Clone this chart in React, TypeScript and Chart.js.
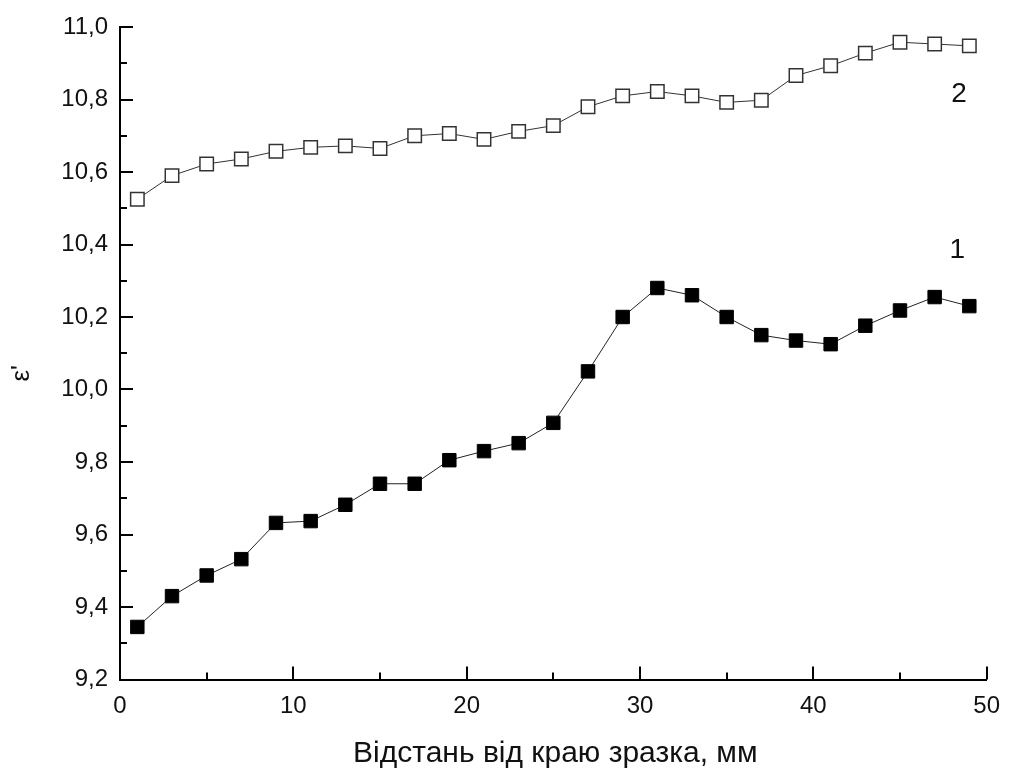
import { useEffect, useRef } from "react";
import { Chart, registerables } from "chart.js";

Chart.register(...registerables);

// Distance from the sample edge, mm
const distances = [1, 3, 5, 7, 9, 11, 13, 15, 17, 19, 21, 23, 25, 27, 29, 31, 33, 35, 37, 39, 41, 43, 45, 47, 49];

// Curve 1 (filled squares)
const curve1 = [
  9.345, 9.43, 9.487, 9.532, 9.632, 9.637, 9.682, 9.74, 9.74, 9.805, 9.83, 9.852, 9.908,
  10.05, 10.2, 10.28, 10.26, 10.2, 10.15, 10.135, 10.125, 10.176, 10.218, 10.255, 10.23,
];

// Curve 2 (open squares)
const curve2 = [
  10.525, 10.59, 10.622, 10.636, 10.657, 10.668, 10.672, 10.665, 10.7, 10.706, 10.69, 10.712, 10.728,
  10.78, 10.81, 10.822, 10.81, 10.792, 10.798, 10.866, 10.893, 10.928, 10.958, 10.953, 10.948,
];

// Curve number labels, placed in data coordinates
const curveNames = ["1", "2"];
const curveNameX = [48.3, 48.4];
const curveNameY = [10.385, 10.815];

const xTitle = "Відстань від краю зразка, мм";
const yTitle = "ε'";

const FONT = "'Liberation Sans', Arial, Helvetica, sans-serif";

const toPoints = (ys: number[]) => distances.map((x, i) => ({ x, y: ys[i] }));
const fmt = (v: number) => v.toFixed(1).replace(".", ",");

// Inward major/minor ticks, curve numbers and axis titles
const decorations = {
  id: "decorations",
  afterDraw(chart: any) {
    const { ctx, chartArea } = chart;
    const x = chart.scales.x;
    const y = chart.scales.y;
    ctx.save();
    ctx.strokeStyle = "#000";
    ctx.lineWidth = 2;
    for (let i = 0; i <= 10; i++) {
      const v = i * 5;
      const px = Math.round(x.getPixelForValue(v));
      const len = i % 2 === 0 ? 13 : 7;
      ctx.beginPath();
      ctx.moveTo(px, chartArea.bottom);
      ctx.lineTo(px, chartArea.bottom - len);
      ctx.stroke();
    }
    for (let i = 0; i <= 18; i++) {
      const v = 9.2 + i * 0.1;
      const py = Math.round(y.getPixelForValue(v));
      const len = i % 2 === 0 ? 13 : 7;
      ctx.beginPath();
      ctx.moveTo(chartArea.left, py);
      ctx.lineTo(chartArea.left + len, py);
      ctx.stroke();
    }

    ctx.fillStyle = "#111";
    ctx.textAlign = "center";
    ctx.textBaseline = "middle";
    ctx.font = `28px ${FONT}`;
    curveNames.forEach((name, i) => {
      ctx.fillText(name, x.getPixelForValue(curveNameX[i]), y.getPixelForValue(curveNameY[i]));
    });

    ctx.font = `30px ${FONT}`;
    ctx.textBaseline = "alphabetic";
    ctx.fillText(xTitle, (chartArea.left + chartArea.right) / 2 + 2, 762);

    ctx.translate(22, (chartArea.top + chartArea.bottom) / 2 + 20);
    ctx.rotate(-Math.PI / 2);
    ctx.font = `26px ${FONT}`;
    ctx.textBaseline = "middle";
    ctx.fillText(yTitle, 0, 0);
    ctx.restore();
  },
};

export default function App() {
  const canvasRef = useRef<HTMLCanvasElement | null>(null);

  useEffect(() => {
    if (!canvasRef.current) return;
    const chart = new Chart(canvasRef.current, {
      type: "line",
      data: {
        datasets: [
          {
            label: "1",
            data: toPoints(curve1),
            borderColor: "#222",
            borderWidth: 1,
            pointStyle: "rect",
            pointRadius: 9.5,
            pointBackgroundColor: "#000",
            pointBorderColor: "#000",
            pointBorderWidth: 1,
            tension: 0,
          },
          {
            label: "2",
            data: toPoints(curve2),
            borderColor: "#333",
            borderWidth: 1,
            pointStyle: "rect",
            pointRadius: 9.5,
            pointBackgroundColor: "#fff",
            pointBorderColor: "#333",
            pointBorderWidth: 1.5,
            tension: 0,
          },
        ],
      },
      options: {
        animation: false,
        responsive: true,
        maintainAspectRatio: false,
        layout: { padding: { left: 0, top: 27, right: 15.5, bottom: 0 } },
        plugins: {
          legend: { display: false },
          tooltip: { enabled: false },
        },
        scales: {
          x: {
            type: "linear",
            min: 0,
            max: 50,
            grid: { display: false, drawTicks: false },
            border: { display: true, color: "#000", width: 2 },
            ticks: {
              stepSize: 10,
              padding: 12,
              color: "#111",
              font: { family: FONT, size: 24 },
              maxRotation: 0,
              callback: (v: any) => String(v),
            },
            afterFit: (s: any) => {
              s.height = 89.5;
            },
          },
          y: {
            type: "linear",
            min: 9.2,
            max: 11.0,
            grid: { display: false, drawTicks: false },
            border: { display: true, color: "#000", width: 2 },
            ticks: {
              stepSize: 0.2,
              padding: 12,
              color: "#111",
              font: { family: FONT, size: 24 },
              autoSkip: false,
              callback: (v: any) => fmt(Number(v)),
            },
            afterFit: (s: any) => {
              s.width = 120;
            },
          },
        },
      },
      plugins: [decorations],
    });
    return () => chart.destroy();
  }, []);

  return (
    <div style={{ position: "fixed", left: 0, top: 0, width: 1012, height: 769, background: "#fff" }}>
      <canvas ref={canvasRef} />
    </div>
  );
}
